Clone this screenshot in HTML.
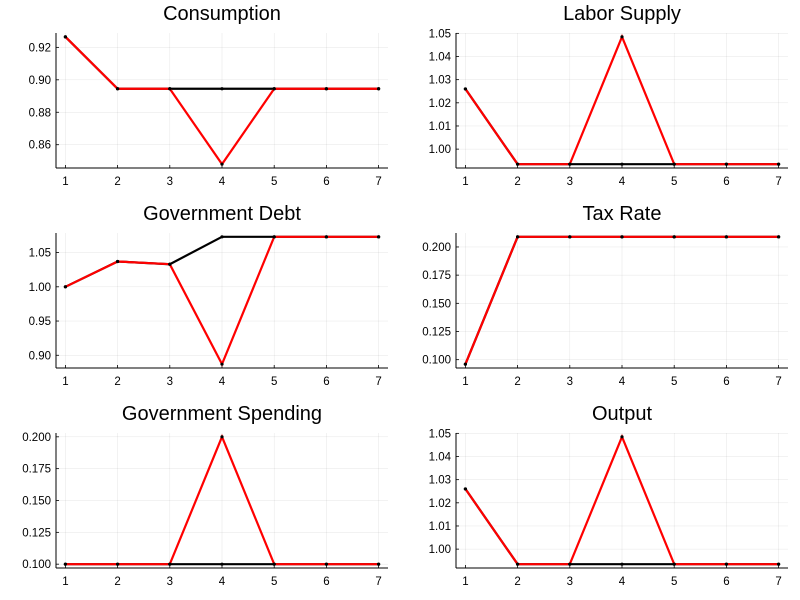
<!DOCTYPE html>
<html><head><meta charset="utf-8"><style>
body{margin:0;background:#fff;}
svg{display:block;font-family:"Liberation Sans","DejaVu Sans",sans-serif;}
</style></head><body>
<svg id="c" width="800" height="600"></svg>
<script>
const periods=[1,2,3,4,5,6,7];
const consBase=[0.9265,0.8945,0.8945,0.8945,0.8945,0.8945,0.8945];
const consShock=[0.9265,0.8945,0.8945,0.848,0.8945,0.8945,0.8945];
const laborBase=[1.026,0.9935,0.9935,0.9935,0.9935,0.9935,0.9935];
const laborShock=[1.026,0.9935,0.9935,1.0485,0.9935,0.9935,0.9935];
const debtBase=[1.0,1.037,1.033,1.073,1.073,1.073,1.073];
const debtShock=[1.0,1.037,1.033,0.887,1.073,1.073,1.073];
const taxBase=[0.096,0.209,0.209,0.209,0.209,0.209,0.209];
const taxShock=[0.096,0.209,0.209,0.209,0.209,0.209,0.209];
const govBase=[0.1,0.1,0.1,0.1,0.1,0.1,0.1];
const govShock=[0.1,0.1,0.1,0.2,0.1,0.1,0.1];
const outBase=[1.026,0.9935,0.9935,0.9935,0.9935,0.9935,0.9935];
const outShock=[1.026,0.9935,0.9935,1.0485,0.9935,0.9935,0.9935];
const consTicks=[0.86,0.88,0.90,0.92];
const laborTicks=[1.00,1.01,1.02,1.03,1.04,1.05];
const debtTicks=[0.90,0.95,1.00,1.05];
const taxTicks=[0.100,0.125,0.150,0.175,0.200];
const govTicks=[0.100,0.125,0.150,0.175,0.200];
const outTicks=[1.00,1.01,1.02,1.03,1.04,1.05];
const titles=["Consumption","Labor Supply","Government Debt","Tax Rate","Government Spending","Output"];

const NS="http://www.w3.org/2000/svg";
const svg=document.getElementById('c');
function mk(tag,attrs,parent){const e=document.createElementNS(NS,tag);for(const k in attrs)e.setAttribute(k,attrs[k]);(parent||svg).appendChild(e);return e;}

const panels=[
 {t:titles[0],b:consBase,s:consShock,ticks:consTicks,dec:2,x0:56,y0:33,name:'consumption'},
 {t:titles[1],b:laborBase,s:laborShock,ticks:laborTicks,dec:2,x0:456,y0:33,name:'labor-supply'},
 {t:titles[2],b:debtBase,s:debtShock,ticks:debtTicks,dec:2,x0:56,y0:233,name:'government-debt'},
 {t:titles[3],b:taxBase,s:taxShock,ticks:taxTicks,dec:3,x0:456,y0:233,name:'tax-rate'},
 {t:titles[4],b:govBase,s:govShock,ticks:govTicks,dec:3,x0:56,y0:433,name:'government-spending'},
 {t:titles[5],b:outBase,s:outShock,ticks:outTicks,dec:2,x0:456,y0:433,name:'output'}
];
const W=332,H=135;
panels.forEach(p=>{
 const g=mk('g',{});
 
 
 const all=p.b.concat(p.s);
 const mn=Math.min(...all),mx=Math.max(...all),r=mx-mn;
 const lo=mn-0.03*r,hi=mx+0.03*r;
 const xmin=periods[0],xmax=periods[periods.length-1],xr=xmax-xmin;
 const xl=xmin-0.03*xr,xh=xmax+0.03*xr;
 const X=v=>p.x0+(v-xl)/(xh-xl)*W;
 const Y=v=>p.y0+H-(v-lo)/(hi-lo)*H;
 periods.forEach(v=>{const l=mk('line',{x1:X(v),x2:X(v),y1:p.y0,y2:p.y0+H,stroke:'#000','stroke-opacity':0.1,'stroke-width':0.5},g);
  });
 p.ticks.forEach(v=>{const l=mk('line',{x1:p.x0,x2:p.x0+W,y1:Y(v),y2:Y(v),stroke:'#000','stroke-opacity':0.1,'stroke-width':0.5},g);
  });
 const ax=mk('line',{x1:p.x0,x2:p.x0+W,y1:p.y0+H,y2:p.y0+H,stroke:'#000','stroke-width':1},g);
 
 const ay=mk('line',{x1:p.x0,x2:p.x0,y1:p.y0,y2:p.y0+H,stroke:'#000','stroke-width':1},g);
 
 periods.forEach(v=>{
  mk('line',{x1:X(v),x2:X(v),y1:p.y0+H,y2:p.y0+H-3,stroke:'#000','stroke-width':0.8},g);
  const t=mk('text',{x:X(v),y:p.y0+H+17,'text-anchor':'middle','font-size':11.5,fill:'#000'},g);
  t.textContent=v;
 });
 p.ticks.forEach(v=>{
  mk('line',{x1:p.x0,x2:p.x0+3,y1:Y(v),y2:Y(v),stroke:'#000','stroke-width':0.8},g);
  const t=mk('text',{x:p.x0-5,y:Y(v)+4,'text-anchor':'end','font-size':11.5,fill:'#000'},g);
  t.textContent=v.toFixed(p.dec);
 });
 const tt=mk('text',{x:p.x0+W/2,y:p.y0-13,'text-anchor':'middle','font-size':20,fill:'#000'},g);
 tt.textContent=p.t;
 const pts=a=>a.map((v,i)=>X(periods[i])+','+Y(v)).join(' ');
 const lb=mk('polyline',{points:pts(p.b),fill:'none',stroke:'#000','stroke-width':2.2},g);
 
 const ls=mk('polyline',{points:pts(p.s),fill:'none',stroke:'#f00','stroke-width':2.2},g);
 
 [p.b,p.s].forEach(a=>a.forEach((v,i)=>{
  const c=mk('circle',{cx:X(periods[i]),cy:Y(v),r:1.6,fill:'#000'},g);
  
 }));
});
</script>
</body></html>
